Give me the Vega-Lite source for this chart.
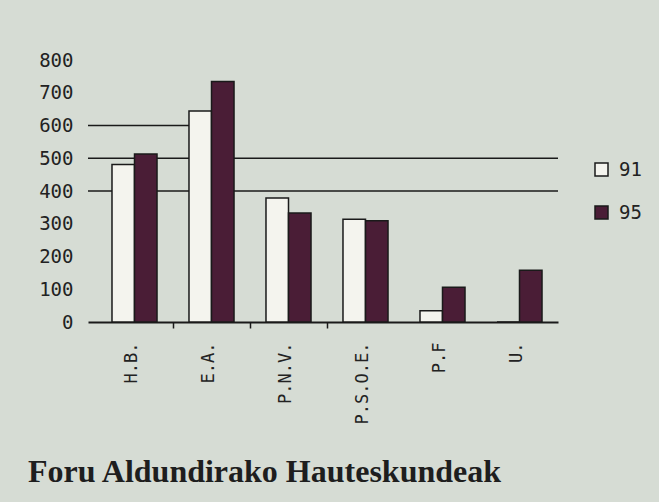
{
  "$schema": "https://vega.github.io/schema/vega-lite/v6.json",
  "width": 470,
  "height": 262,
  "autosize": {"type": "none"},
  "padding": {"left": 88, "top": 60, "right": 101, "bottom": 180},
  "background": "#d6dcd4",
  "config": {
    "view": {"stroke": null},
    "axisY": {"title": null, "labelOverlap": false, "domain": false, "ticks": false, "grid": false,
              "labelPadding": 15, "labelFont": "DejaVu Sans Mono", "labelFontSize": 19, "labelColor": "#222222"}
  },
  "title": {
    "text": "Foru Aldundirako Hauteskundeak",
    "orient": "bottom",
    "anchor": "start",
    "frame": "group",
    "dx": -60,
    "offset": 33,
    "font": "Liberation Serif",
    "fontSize": 32,
    "fontWeight": "bold",
    "color": "#1e1e1e"
  },
  "datasets": {
    "votes": [
      {"party": "H.B.", "year": "91", "value": 481},
      {"party": "H.B.", "year": "95", "value": 513},
      {"party": "E.A.", "year": "91", "value": 644},
      {"party": "E.A.", "year": "95", "value": 734},
      {"party": "P.N.V.", "year": "91", "value": 379},
      {"party": "P.N.V.", "year": "95", "value": 333},
      {"party": "P.S.O.E.", "year": "91", "value": 314},
      {"party": "P.S.O.E.", "year": "95", "value": 309},
      {"party": "P.F", "year": "91", "value": 34},
      {"party": "P.F", "year": "95", "value": 106},
      {"party": "U.", "year": "91", "value": 0},
      {"party": "U.", "year": "95", "value": 158}
    ],
    "grid": [{"level": 400}, {"level": 500}],
    "partial": [{"level": 600}]
  },
  "resolve": {"axis": {"x": "independent"}},
  "layer": [
    {
      "data": {"name": "grid"},
      "mark": {"type": "rule", "color": "#1a1a1a", "strokeWidth": 1.5},
      "encoding": {
        "y": {"field": "level", "type": "quantitative", "scale": {"domain": [0, 800]},
              "axis": {"values": [0, 100, 200, 300, 400, 500, 600, 700, 800], "tickCount": 9}}
      }
    },
    {
      "data": {"name": "partial"},
      "mark": {"type": "rule", "color": "#1a1a1a", "strokeWidth": 1.5},
      "encoding": {
        "y": {"field": "level", "type": "quantitative",
              "axis": {"values": [0, 100, 200, 300, 400, 500, 600, 700, 800], "tickCount": 9}},
        "x": {"datum": "H.B.", "type": "nominal", "bandPosition": -0.104,
              "axis": {"orient": "bottom", "values": ["E.A.", "P.N.V.", "P.S.O.E."], "bandPosition": 0, "labels": false, "domain": false, "ticks": true, "tickSize": 6, "tickWidth": 1.5, "tickColor": "#1a1a1a", "title": null, "grid": false}},
        "x2": {"datum": "E.A.", "bandPosition": 0.79}
      }
    },
    {
      "data": {"name": "votes"},
      "mark": {"type": "bar", "stroke": "#1a1a1a", "strokeWidth": 1.5},
      "encoding": {
        "x": {
          "field": "party", "type": "nominal", "sort": null,
          "scale": {"domain": ["H.B.", "E.A.", "P.N.V.", "P.S.O.E.", "P.F", "U."], "paddingInner": 0, "paddingOuter": 0.052, "align": 1},
          "axis": {"orient": "bottom", "title": null, "labelAngle": -90, "ticks": false, "labelPadding": 20, "labelOffset": -3,
                   "labelFont": "DejaVu Sans Mono", "labelFontSize": 17, "labelColor": "#222222",
                   "domainColor": "#1a1a1a", "domainWidth": 2, "grid": false}
        },
        "xOffset": {"field": "year", "type": "nominal", "scale": {"paddingInner": 0, "paddingOuter": 0.71}},
        "y": {"field": "value", "type": "quantitative",
              "axis": {"values": [0, 100, 200, 300, 400, 500, 600, 700, 800], "tickCount": 9}},
        "color": {
          "field": "year", "type": "nominal",
          "scale": {"domain": ["91", "95"], "range": ["#f4f4ee", "#4a1d36"]},
          "legend": {"title": null, "orient": "none", "legendX": 504, "legendY": 100, "padding": 0,
                     "symbolType": "square", "symbolSize": 169, "symbolStrokeColor": "#1a1a1a", "symbolStrokeWidth": 1.5,
                     "rowPadding": 23, "labelOffset": 8, "labelFont": "DejaVu Sans Mono", "labelFontSize": 19, "labelColor": "#222222"}
        }
      }
    }
  ]
}
